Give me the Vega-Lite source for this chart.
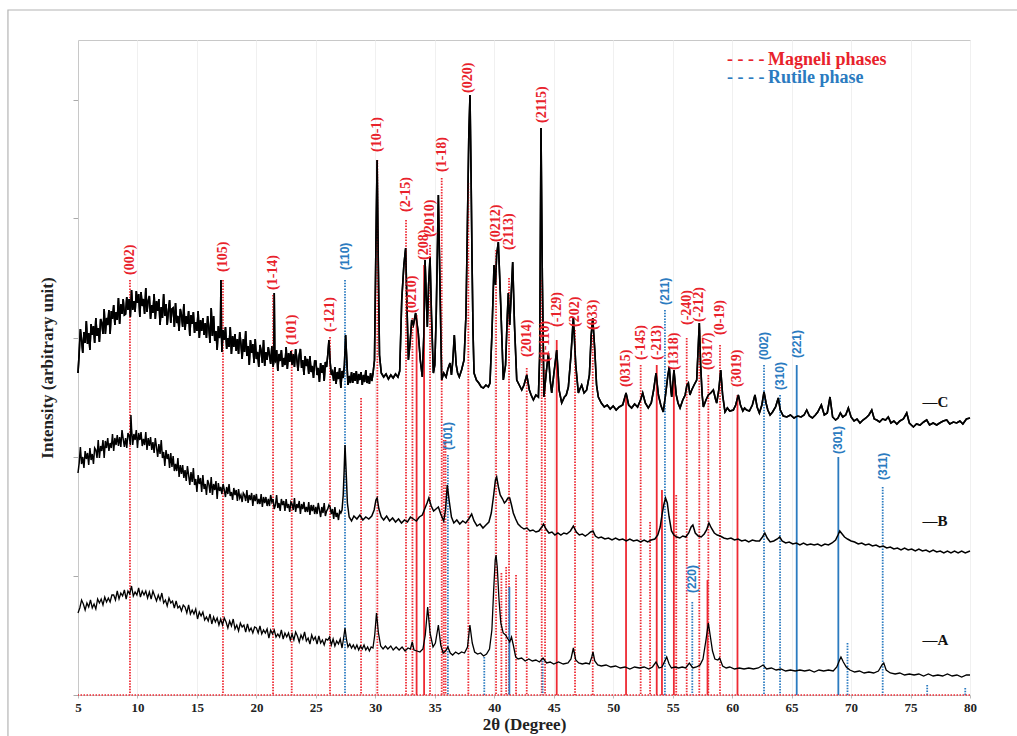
{
"$schema":"https://vega.github.io/schema/vega-lite/v6.json",
"width":892,"height":655,
"autosize":{"type":"none"},
"padding":{"left":78,"top":40,"right":47,"bottom":41},
"background":"white",
"config":{"view":{"stroke":"#c8c8c8","strokeWidth":1}},
"data":{"values":[{}]},
"datasets":{
"refs":[
{"x":9.37,"top":415,"ly":420,"p":"M","r":"d","t":"(002)"},
{"x":17.19,"top":415,"ly":423,"p":"M","r":"d","t":"(105)"},
{"x":21.4,"top":400,"ly":405,"p":"M","r":"d","t":"(1-14)"},
{"x":22.97,"top":345,"ly":350,"p":"M","r":"d","t":"(101)"},
{"x":26.19,"top":358,"ly":363,"p":"M","r":"d","t":"(-121)"},
{"x":28.8,"top":297,"ly":0,"p":"M","r":"d","t":""},
{"x":30.17,"top":535,"ly":543,"p":"M","r":"d","t":"(10-1)"},
{"x":32.58,"top":475,"ly":483,"p":"M","r":"d","t":"(2-15)"},
{"x":33.12,"top":377,"ly":382,"p":"M","r":"d","t":"(0210)"},
{"x":33.47,"top":380,"ly":0,"p":"M","r":"s","t":""},
{"x":34.1,"top":430,"ly":435,"p":"M","r":"s","t":"(208)"},
{"x":34.6,"top":450,"ly":458,"p":"M","r":"d","t":"(2010)"},
{"x":35.58,"top":517,"ly":523,"p":"M","r":"d","t":"(1-18)"},
{"x":35.75,"top":255,"ly":0,"p":"M","r":"d","t":""},
{"x":35.9,"top":255,"ly":0,"p":"M","r":"d","t":""},
{"x":37.82,"top":512,"ly":602,"p":"M","r":"d","t":"(020)"},
{"x":40.15,"top":445,"ly":453,"p":"M","r":"d","t":"(0212)"},
{"x":40.6,"top":122,"ly":0,"p":"M","r":"d","t":""},
{"x":41.0,"top":128,"ly":0,"p":"M","r":"d","t":""},
{"x":41.24,"top":417,"ly":445,"p":"M","r":"d","t":"(2113)"},
{"x":41.83,"top":120,"ly":0,"p":"M","r":"d","t":""},
{"x":42.73,"top":327,"ly":338,"p":"M","r":"d","t":"(2014)"},
{"x":43.99,"top":415,"ly":572,"p":"M","r":"d","t":"(2115)"},
{"x":44.27,"top":325,"ly":333,"p":"M","r":"d","t":"(1-110)"},
{"x":45.25,"top":355,"ly":368,"p":"M","r":"s","t":"(-129)"},
{"x":46.79,"top":365,"ly":368,"p":"M","r":"d","t":"(202)"},
{"x":48.28,"top":360,"ly":365,"p":"M","r":"d","t":"(033)"},
{"x":51.08,"top":300,"ly":308,"p":"M","r":"s","t":"(0315)"},
{"x":52.31,"top":330,"ly":335,"p":"M","r":"d","t":"(-145)"},
{"x":53.1,"top":173,"ly":0,"p":"M","r":"d","t":""},
{"x":53.66,"top":330,"ly":335,"p":"M","r":"s","t":"(-213)"},
{"x":54.1,"top":205,"ly":0,"p":"M","r":"s","t":""},
{"x":55.1,"top":323,"ly":325,"p":"M","r":"s","t":"(1318)"},
{"x":55.3,"top":200,"ly":0,"p":"M","r":"d","t":""},
{"x":56.18,"top":357,"ly":370,"p":"M","r":"d","t":"(-240)"},
{"x":57.24,"top":365,"ly":373,"p":"M","r":"d","t":"(-212)"},
{"x":58.0,"top":320,"ly":325,"p":"M","r":"d","t":"(0317)"},
{"x":57.93,"top":115,"ly":0,"p":"M","r":"s","t":""},
{"x":58.98,"top":350,"ly":360,"p":"M","r":"d","t":"(0-19)"},
{"x":60.45,"top":300,"ly":308,"p":"M","r":"s","t":"(3019)"},
{"x":27.45,"top":415,"ly":425,"p":"R","r":"d","t":"(110)"},
{"x":36.1,"top":240,"ly":245,"p":"R","r":"d","t":"(101)"},
{"x":39.16,"top":38,"ly":0,"p":"R","r":"d","t":""},
{"x":41.27,"top":108,"ly":0,"p":"R","r":"s","t":""},
{"x":44.07,"top":37,"ly":0,"p":"R","r":"d","t":""},
{"x":54.35,"top":385,"ly":390,"p":"R","r":"d","t":"(211)"},
{"x":56.65,"top":93,"ly":102,"p":"R","r":"d","t":"(220)"},
{"x":62.68,"top":330,"ly":335,"p":"R","r":"d","t":"(002)"},
{"x":64.03,"top":300,"ly":305,"p":"R","r":"d","t":"(310)"},
{"x":65.43,"top":330,"ly":337,"p":"R","r":"s","t":"(221)"},
{"x":68.93,"top":238,"ly":241,"p":"R","r":"s","t":"(301)"},
{"x":72.66,"top":208,"ly":215,"p":"R","r":"d","t":"(311)"},
{"x":69.7,"top":52,"ly":0,"p":"R","r":"d","t":""},
{"x":76.4,"top":10,"ly":0,"p":"R","r":"d","t":""},
{"x":79.6,"top":7,"ly":0,"p":"R","r":"d","t":""}
],
"C":[
{"x":5.0,"y":322},{"x":5.1,"y":342},{"x":5.2,"y":366},{"x":5.3,"y":355},{"x":5.4,"y":342},{"x":5.5,"y":363},{"x":5.6,"y":352},{"x":5.7,"y":374},{"x":5.8,"y":351},{"x":5.9,"y":362},{"x":6.0,"y":345},{"x":6.1,"y":371},{"x":6.2,"y":360},{"x":6.3,"y":369},{"x":6.4,"y":352},{"x":6.5,"y":377},{"x":6.6,"y":359},{"x":6.7,"y":367},{"x":6.8,"y":353},{"x":6.9,"y":376},{"x":7.0,"y":372},{"x":7.1,"y":361},{"x":7.2,"y":386},{"x":7.3,"y":361},{"x":7.4,"y":377},{"x":7.5,"y":370},{"x":7.6,"y":385},{"x":7.7,"y":361},{"x":7.8,"y":384},{"x":7.9,"y":376},{"x":8.0,"y":390},{"x":8.1,"y":370},{"x":8.2,"y":383},{"x":8.3,"y":375},{"x":8.4,"y":397},{"x":8.5,"y":371},{"x":8.6,"y":391},{"x":8.7,"y":381},{"x":8.8,"y":396},{"x":8.9,"y":380},{"x":9.0,"y":381},{"x":9.1,"y":398},{"x":9.2,"y":385},{"x":9.3,"y":396},{"x":9.4,"y":378},{"x":9.5,"y":405},{"x":9.6,"y":385},{"x":9.7,"y":394},{"x":9.8,"y":383},{"x":9.9,"y":404},{"x":10.0,"y":392},{"x":10.1,"y":401},{"x":10.2,"y":378},{"x":10.3,"y":403},{"x":10.4,"y":389},{"x":10.5,"y":396},{"x":10.6,"y":381},{"x":10.7,"y":407},{"x":10.8,"y":383},{"x":10.9,"y":394},{"x":11.0,"y":399},{"x":11.1,"y":376},{"x":11.2,"y":390},{"x":11.3,"y":382},{"x":11.4,"y":401},{"x":11.5,"y":376},{"x":11.6,"y":394},{"x":11.7,"y":384},{"x":11.8,"y":396},{"x":11.9,"y":370},{"x":12.0,"y":388},{"x":12.1,"y":377},{"x":12.2,"y":401},{"x":12.3,"y":379},{"x":12.4,"y":391},{"x":12.5,"y":370},{"x":12.6,"y":384},{"x":12.7,"y":395},{"x":12.8,"y":372},{"x":12.9,"y":386},{"x":13.0,"y":387},{"x":13.1,"y":368},{"x":13.2,"y":392},{"x":13.3,"y":372},{"x":13.4,"y":379},{"x":13.5,"y":364},{"x":13.6,"y":386},{"x":13.7,"y":380},{"x":13.8,"y":368},{"x":13.9,"y":391},{"x":14.0,"y":365},{"x":14.1,"y":379},{"x":14.2,"y":371},{"x":14.3,"y":384},{"x":14.4,"y":359},{"x":14.5,"y":380},{"x":14.6,"y":371},{"x":14.7,"y":383},{"x":14.8,"y":362},{"x":14.9,"y":373},{"x":15.0,"y":364},{"x":15.1,"y":384},{"x":15.2,"y":357},{"x":15.3,"y":375},{"x":15.4,"y":364},{"x":15.5,"y":377},{"x":15.6,"y":360},{"x":15.7,"y":372},{"x":15.8,"y":357},{"x":15.9,"y":379},{"x":16.0,"y":367},{"x":16.1,"y":352},{"x":16.2,"y":387},{"x":16.3,"y":359},{"x":16.4,"y":379},{"x":16.5,"y":354},{"x":16.6,"y":364},{"x":16.7,"y":345},{"x":16.8,"y":369},{"x":16.9,"y":357},{"x":16.97,"y":362},{"x":17.02,"y":415},{"x":17.07,"y":360},{"x":17.1,"y":343},{"x":17.2,"y":365},{"x":17.3,"y":355},{"x":17.4,"y":368},{"x":17.5,"y":346},{"x":17.6,"y":357},{"x":17.7,"y":348},{"x":17.8,"y":368},{"x":17.9,"y":341},{"x":18.0,"y":359},{"x":18.1,"y":348},{"x":18.2,"y":361},{"x":18.3,"y":344},{"x":18.4,"y":356},{"x":18.5,"y":341},{"x":18.6,"y":363},{"x":18.7,"y":351},{"x":18.8,"y":336},{"x":18.9,"y":356},{"x":19.0,"y":343},{"x":19.1,"y":364},{"x":19.2,"y":339},{"x":19.3,"y":349},{"x":19.4,"y":330},{"x":19.5,"y":355},{"x":19.6,"y":342},{"x":19.7,"y":351},{"x":19.8,"y":332},{"x":19.9,"y":356},{"x":20.0,"y":336},{"x":20.1,"y":343},{"x":20.2,"y":328},{"x":20.3,"y":350},{"x":20.4,"y":344},{"x":20.5,"y":332},{"x":20.6,"y":355},{"x":20.7,"y":329},{"x":20.8,"y":343},{"x":20.9,"y":335},{"x":21.0,"y":348},{"x":21.1,"y":340},{"x":21.2,"y":331},{"x":21.3,"y":349},{"x":21.4,"y":328},{"x":21.46,"y":333},{"x":21.5,"y":402},{"x":21.55,"y":335},{"x":21.6,"y":334},{"x":21.7,"y":345},{"x":21.8,"y":324},{"x":21.9,"y":341},{"x":22.0,"y":334},{"x":22.1,"y":345},{"x":22.2,"y":328},{"x":22.3,"y":337},{"x":22.4,"y":330},{"x":22.5,"y":348},{"x":22.6,"y":326},{"x":22.7,"y":342},{"x":22.8,"y":333},{"x":22.9,"y":344},{"x":23.0,"y":330},{"x":23.1,"y":341},{"x":23.2,"y":328},{"x":23.3,"y":346},{"x":23.4,"y":336},{"x":23.5,"y":324},{"x":23.6,"y":340},{"x":23.7,"y":346},{"x":23.8,"y":327},{"x":23.9,"y":335},{"x":24.0,"y":320},{"x":24.1,"y":339},{"x":24.2,"y":329},{"x":24.3,"y":336},{"x":24.4,"y":321},{"x":24.5,"y":339},{"x":24.6,"y":323},{"x":24.7,"y":329},{"x":24.8,"y":317},{"x":24.9,"y":334},{"x":25.0,"y":334},{"x":25.1,"y":320},{"x":25.2,"y":327},{"x":25.3,"y":313},{"x":25.4,"y":332},{"x":25.5,"y":322},{"x":25.6,"y":330},{"x":25.7,"y":314},{"x":25.8,"y":333},{"x":25.9,"y":328},{"x":26.0,"y":340},{"x":26.1,"y":355},{"x":26.2,"y":333},{"x":26.3,"y":320},{"x":26.4,"y":323},{"x":26.5,"y":314},{"x":26.6,"y":328},{"x":26.7,"y":311},{"x":26.8,"y":323},{"x":26.9,"y":316},{"x":27.0,"y":327},{"x":27.1,"y":307},{"x":27.2,"y":324},{"x":27.3,"y":317},{"x":27.4,"y":330},{"x":27.5,"y":360},{"x":27.6,"y":335},{"x":27.7,"y":310},{"x":27.8,"y":319},{"x":27.9,"y":312},{"x":28.0,"y":323},{"x":28.1,"y":312},{"x":28.2,"y":322},{"x":28.3,"y":314},{"x":28.4,"y":324},{"x":28.5,"y":311},{"x":28.6,"y":321},{"x":28.7,"y":315},{"x":28.8,"y":323},{"x":28.9,"y":310},{"x":29.0,"y":320},{"x":29.1,"y":313},{"x":29.2,"y":325},{"x":29.3,"y":312},{"x":29.4,"y":319},{"x":29.5,"y":311},{"x":29.6,"y":322},{"x":29.7,"y":314},{"x":29.8,"y":321},{"x":29.93,"y":335},{"x":30.05,"y":450},{"x":30.15,"y":535},{"x":30.25,"y":430},{"x":30.35,"y":340},{"x":30.5,"y":322},{"x":30.7,"y":318},{"x":30.9,"y":321},{"x":31.1,"y":316},{"x":31.3,"y":320},{"x":31.5,"y":317},{"x":31.7,"y":321},{"x":31.9,"y":318},{"x":32.05,"y":324},{"x":32.22,"y":395},{"x":32.4,"y":430},{"x":32.55,"y":447},{"x":32.68,"y":380},{"x":32.78,"y":335},{"x":32.92,"y":352},{"x":33.06,"y":375},{"x":33.2,"y":370},{"x":33.39,"y":382},{"x":33.5,"y":372},{"x":33.61,"y":362},{"x":33.78,"y":335},{"x":33.95,"y":318},{"x":34.08,"y":360},{"x":34.18,"y":435},{"x":34.28,"y":400},{"x":34.37,"y":368},{"x":34.48,"y":410},{"x":34.6,"y":438},{"x":34.72,"y":380},{"x":34.88,"y":322},{"x":35.0,"y":330},{"x":35.12,"y":380},{"x":35.3,"y":500},{"x":35.45,"y":400},{"x":35.58,"y":315},{"x":35.75,"y":322},{"x":35.95,"y":318},{"x":36.1,"y":326},{"x":36.28,"y":332},{"x":36.4,"y":320},{"x":36.52,"y":335},{"x":36.64,"y":360},{"x":36.8,"y":330},{"x":36.92,"y":322},{"x":37.06,"y":318},{"x":37.25,"y":325},{"x":37.46,"y":335},{"x":37.62,"y":380},{"x":37.74,"y":468},{"x":37.86,"y":560},{"x":37.96,"y":600},{"x":38.05,"y":520},{"x":38.13,"y":435},{"x":38.22,"y":360},{"x":38.3,"y":322},{"x":38.5,"y":315},{"x":38.7,"y":312},{"x":38.9,"y":308},{"x":39.08,"y":307},{"x":39.3,"y":310},{"x":39.5,"y":308},{"x":39.64,"y":312},{"x":39.8,"y":360},{"x":39.98,"y":430},{"x":40.1,"y":410},{"x":40.2,"y":440},{"x":40.34,"y":453},{"x":40.45,"y":420},{"x":40.55,"y":388},{"x":40.76,"y":315},{"x":40.95,"y":330},{"x":41.1,"y":380},{"x":41.18,"y":402},{"x":41.3,"y":370},{"x":41.42,"y":400},{"x":41.55,"y":433},{"x":41.7,"y":370},{"x":41.89,"y":315},{"x":42.1,"y":310},{"x":42.31,"y":305},{"x":42.5,"y":310},{"x":42.73,"y":320},{"x":42.95,"y":305},{"x":43.1,"y":300},{"x":43.29,"y":295},{"x":43.5,"y":300},{"x":43.71,"y":298},{"x":43.82,"y":340},{"x":43.93,"y":567},{"x":44.04,"y":418},{"x":44.18,"y":298},{"x":44.35,"y":320},{"x":44.55,"y":342},{"x":44.7,"y":315},{"x":44.83,"y":302},{"x":45.0,"y":320},{"x":45.25,"y":345},{"x":45.45,"y":305},{"x":45.67,"y":292},{"x":45.9,"y":298},{"x":46.05,"y":300},{"x":46.23,"y":308},{"x":46.45,"y":340},{"x":46.65,"y":378},{"x":46.85,"y":330},{"x":47.07,"y":302},{"x":47.2,"y":306},{"x":47.35,"y":310},{"x":47.55,"y":302},{"x":47.77,"y":305},{"x":48.0,"y":320},{"x":48.15,"y":360},{"x":48.28,"y":377},{"x":48.45,"y":345},{"x":48.6,"y":310},{"x":48.75,"y":298},{"x":49.0,"y":292},{"x":49.25,"y":288},{"x":49.5,"y":290},{"x":49.75,"y":286},{"x":50.0,"y":289},{"x":50.25,"y":285},{"x":50.5,"y":288},{"x":50.8,"y":290},{"x":51.08,"y":302},{"x":51.3,"y":290},{"x":51.55,"y":287},{"x":51.8,"y":291},{"x":52.05,"y":288},{"x":52.3,"y":295},{"x":52.48,"y":302},{"x":52.7,"y":292},{"x":52.95,"y":287},{"x":53.2,"y":292},{"x":53.4,"y":305},{"x":53.6,"y":322},{"x":53.8,"y":300},{"x":54.0,"y":290},{"x":54.21,"y":283},{"x":54.4,"y":300},{"x":54.6,"y":320},{"x":54.72,"y":328},{"x":54.85,"y":305},{"x":54.92,"y":298},{"x":55.02,"y":312},{"x":55.11,"y":325},{"x":55.3,"y":300},{"x":55.45,"y":292},{"x":55.62,"y":287},{"x":55.85,"y":295},{"x":56.05,"y":300},{"x":56.2,"y":310},{"x":56.32,"y":312},{"x":56.45,"y":300},{"x":56.6,"y":305},{"x":56.8,"y":310},{"x":57.02,"y":315},{"x":57.12,"y":340},{"x":57.24,"y":372},{"x":57.35,"y":330},{"x":57.48,"y":300},{"x":57.58,"y":288},{"x":57.8,"y":295},{"x":58.0,"y":300},{"x":58.2,"y":302},{"x":58.42,"y":305},{"x":58.6,"y":296},{"x":58.7,"y":292},{"x":58.88,"y":305},{"x":59.04,"y":325},{"x":59.2,"y":300},{"x":59.4,"y":283},{"x":59.6,"y":287},{"x":59.8,"y":284},{"x":60.1,"y":285},{"x":60.3,"y":290},{"x":60.52,"y":300},{"x":60.7,"y":290},{"x":60.9,"y":284},{"x":61.05,"y":287},{"x":61.22,"y":285},{"x":61.45,"y":284},{"x":61.7,"y":290},{"x":61.92,"y":300},{"x":62.1,"y":288},{"x":62.29,"y":282},{"x":62.5,"y":290},{"x":62.68,"y":303},{"x":62.85,"y":292},{"x":63.0,"y":285},{"x":63.19,"y":280},{"x":63.4,"y":283},{"x":63.65,"y":288},{"x":63.88,"y":297},{"x":64.05,"y":285},{"x":64.3,"y":279},{"x":64.6,"y":278},{"x":64.9,"y":280},{"x":65.2,"y":277},{"x":65.5,"y":279},{"x":65.8,"y":278},{"x":66.05,"y":280},{"x":66.27,"y":285},{"x":66.5,"y":279},{"x":66.75,"y":277},{"x":67.0,"y":280},{"x":67.2,"y":283},{"x":67.5,"y":290},{"x":67.75,"y":280},{"x":68.0,"y":282},{"x":68.23,"y":298},{"x":68.45,"y":278},{"x":68.7,"y":275},{"x":68.9,"y":277},{"x":69.1,"y":282},{"x":69.3,"y":278},{"x":69.55,"y":280},{"x":69.77,"y":287},{"x":70.0,"y":278},{"x":70.25,"y":274},{"x":70.5,"y":276},{"x":70.75,"y":272},{"x":71.0,"y":275},{"x":71.25,"y":277},{"x":71.5,"y":280},{"x":71.74,"y":285},{"x":71.95,"y":276},{"x":72.16,"y":275},{"x":72.4,"y":273},{"x":72.65,"y":276},{"x":72.9,"y":275},{"x":73.13,"y":278},{"x":73.35,"y":272},{"x":73.6,"y":274},{"x":73.85,"y":271},{"x":74.1,"y":274},{"x":74.4,"y":276},{"x":74.68,"y":282},{"x":74.9,"y":272},{"x":75.24,"y":268},{"x":75.5,"y":271},{"x":75.8,"y":270},{"x":76.1,"y":273},{"x":76.36,"y":275},{"x":76.6,"y":270},{"x":76.9,"y":272},{"x":77.2,"y":270},{"x":77.45,"y":272},{"x":77.75,"y":274},{"x":78.04,"y":275},{"x":78.3,"y":271},{"x":78.6,"y":273},{"x":78.88,"y":272},{"x":79.15,"y":274},{"x":79.4,"y":271},{"x":79.7,"y":276},{"x":80.0,"y":277}
],
"B":[
{"x":5.0,"y":222},{"x":5.1,"y":232},{"x":5.2,"y":248},{"x":5.3,"y":231},{"x":5.4,"y":238},{"x":5.5,"y":227},{"x":5.6,"y":244},{"x":5.7,"y":236},{"x":5.8,"y":242},{"x":5.9,"y":230},{"x":6.0,"y":247},{"x":6.1,"y":235},{"x":6.2,"y":241},{"x":6.3,"y":231},{"x":6.4,"y":247},{"x":6.5,"y":245},{"x":6.6,"y":237},{"x":6.7,"y":255},{"x":6.8,"y":237},{"x":6.9,"y":249},{"x":7.0,"y":244},{"x":7.1,"y":255},{"x":7.2,"y":237},{"x":7.3,"y":254},{"x":7.4,"y":247},{"x":7.5,"y":257},{"x":7.6,"y":244},{"x":7.7,"y":252},{"x":7.8,"y":247},{"x":7.9,"y":261},{"x":8.0,"y":244},{"x":8.1,"y":257},{"x":8.2,"y":250},{"x":8.3,"y":260},{"x":8.4,"y":249},{"x":8.5,"y":258},{"x":8.6,"y":248},{"x":8.7,"y":265},{"x":8.8,"y":256},{"x":8.9,"y":248},{"x":9.0,"y":257},{"x":9.1,"y":247},{"x":9.2,"y":262},{"x":9.3,"y":259},{"x":9.4,"y":250},{"x":9.45,"y":280},{"x":9.5,"y":267},{"x":9.6,"y":250},{"x":9.7,"y":261},{"x":9.8,"y":255},{"x":9.9,"y":265},{"x":10.0,"y":247},{"x":10.1,"y":262},{"x":10.2,"y":255},{"x":10.3,"y":263},{"x":10.4,"y":249},{"x":10.5,"y":256},{"x":10.6,"y":250},{"x":10.7,"y":263},{"x":10.8,"y":245},{"x":10.9,"y":257},{"x":11.0,"y":249},{"x":11.1,"y":258},{"x":11.2,"y":245},{"x":11.3,"y":253},{"x":11.4,"y":242},{"x":11.5,"y":257},{"x":11.6,"y":248},{"x":11.7,"y":238},{"x":11.8,"y":251},{"x":11.9,"y":241},{"x":12.0,"y":255},{"x":12.1,"y":237},{"x":12.2,"y":243},{"x":12.3,"y":229},{"x":12.4,"y":245},{"x":12.5,"y":236},{"x":12.6,"y":241},{"x":12.7,"y":227},{"x":12.8,"y":242},{"x":12.9,"y":228},{"x":13.0,"y":239},{"x":13.1,"y":224},{"x":13.2,"y":231},{"x":13.3,"y":224},{"x":13.4,"y":237},{"x":13.5,"y":218},{"x":13.6,"y":230},{"x":13.7,"y":221},{"x":13.8,"y":230},{"x":13.9,"y":217},{"x":14.0,"y":225},{"x":14.1,"y":214},{"x":14.2,"y":229},{"x":14.3,"y":220},{"x":14.4,"y":210},{"x":14.5,"y":223},{"x":14.6,"y":213},{"x":14.7,"y":227},{"x":14.8,"y":210},{"x":14.9,"y":216},{"x":15.0,"y":203},{"x":15.1,"y":220},{"x":15.2,"y":211},{"x":15.3,"y":217},{"x":15.4,"y":203},{"x":15.5,"y":220},{"x":15.6,"y":206},{"x":15.7,"y":211},{"x":15.8,"y":200},{"x":15.9,"y":215},{"x":16.0,"y":211},{"x":16.1,"y":202},{"x":16.2,"y":218},{"x":16.3,"y":200},{"x":16.4,"y":211},{"x":16.5,"y":205},{"x":16.6,"y":214},{"x":16.7,"y":196},{"x":16.8,"y":212},{"x":16.9,"y":204},{"x":17.0,"y":208},{"x":17.1,"y":201},{"x":17.2,"y":211},{"x":17.3,"y":205},{"x":17.4,"y":198},{"x":17.5,"y":208},{"x":17.6,"y":201},{"x":17.7,"y":211},{"x":17.8,"y":199},{"x":17.9,"y":203},{"x":18.0,"y":195},{"x":18.1,"y":207},{"x":18.2,"y":200},{"x":18.3,"y":205},{"x":18.4,"y":194},{"x":18.5,"y":206},{"x":18.6,"y":197},{"x":18.7,"y":200},{"x":18.8,"y":193},{"x":18.9,"y":202},{"x":19.0,"y":200},{"x":19.1,"y":194},{"x":19.2,"y":205},{"x":19.3,"y":192},{"x":19.4,"y":200},{"x":19.5,"y":195},{"x":19.6,"y":202},{"x":19.7,"y":189},{"x":19.8,"y":200},{"x":19.9,"y":194},{"x":20.0,"y":201},{"x":20.1,"y":191},{"x":20.2,"y":196},{"x":20.3,"y":191},{"x":20.4,"y":201},{"x":20.5,"y":188},{"x":20.6,"y":198},{"x":20.7,"y":192},{"x":20.8,"y":198},{"x":20.9,"y":189},{"x":21.0,"y":196},{"x":21.1,"y":189},{"x":21.2,"y":200},{"x":21.3,"y":193},{"x":21.4,"y":196},{"x":21.5,"y":186},{"x":21.6,"y":190},{"x":21.7,"y":200},{"x":21.8,"y":187},{"x":21.9,"y":192},{"x":22.0,"y":184},{"x":22.1,"y":196},{"x":22.2,"y":190},{"x":22.3,"y":194},{"x":22.4,"y":184},{"x":22.5,"y":196},{"x":22.6,"y":187},{"x":22.7,"y":191},{"x":22.8,"y":183},{"x":22.9,"y":193},{"x":23.0,"y":191},{"x":23.1,"y":185},{"x":23.2,"y":197},{"x":23.3,"y":183},{"x":23.4,"y":191},{"x":23.5,"y":187},{"x":23.6,"y":194},{"x":23.7,"y":181},{"x":23.8,"y":191},{"x":23.9,"y":186},{"x":24.0,"y":193},{"x":24.1,"y":183},{"x":24.2,"y":188},{"x":24.3,"y":183},{"x":24.4,"y":193},{"x":24.5,"y":180},{"x":24.6,"y":190},{"x":24.7,"y":184},{"x":24.8,"y":190},{"x":24.9,"y":181},{"x":25.0,"y":188},{"x":25.1,"y":181},{"x":25.2,"y":192},{"x":25.3,"y":185},{"x":25.4,"y":178},{"x":25.5,"y":188},{"x":25.6,"y":182},{"x":25.7,"y":192},{"x":25.8,"y":179},{"x":25.9,"y":184},{"x":26.0,"y":186},{"x":26.1,"y":190},{"x":26.2,"y":188},{"x":26.3,"y":181},{"x":26.4,"y":186},{"x":26.5,"y":176},{"x":26.6,"y":188},{"x":26.7,"y":178},{"x":26.8,"y":182},{"x":26.9,"y":175},{"x":27.0,"y":184},{"x":27.1,"y":182},{"x":27.2,"y":185},{"x":27.3,"y":200},{"x":27.38,"y":225},{"x":27.45,"y":250},{"x":27.55,"y":222},{"x":27.65,"y":192},{"x":27.8,"y":178},{"x":28.0,"y":174},{"x":28.2,"y":179},{"x":28.45,"y":176},{"x":28.7,"y":180},{"x":28.95,"y":175},{"x":29.2,"y":178},{"x":29.45,"y":176},{"x":29.7,"y":179},{"x":29.9,"y":185},{"x":30.05,"y":195},{"x":30.15,"y":197},{"x":30.3,"y":186},{"x":30.5,"y":178},{"x":30.7,"y":175},{"x":30.95,"y":179},{"x":31.2,"y":174},{"x":31.45,"y":177},{"x":31.7,"y":173},{"x":31.95,"y":176},{"x":32.2,"y":172},{"x":32.45,"y":175},{"x":32.7,"y":173},{"x":32.95,"y":178},{"x":33.2,"y":176},{"x":33.45,"y":174},{"x":33.7,"y":178},{"x":33.95,"y":180},{"x":34.15,"y":186},{"x":34.35,"y":192},{"x":34.5,"y":197},{"x":34.7,"y":189},{"x":34.9,"y":184},{"x":35.1,"y":186},{"x":35.3,"y":188},{"x":35.5,"y":181},{"x":35.75,"y":174},{"x":35.9,"y":185},{"x":36.05,"y":210},{"x":36.2,"y":195},{"x":36.4,"y":178},{"x":36.6,"y":172},{"x":36.85,"y":175},{"x":37.1,"y":171},{"x":37.35,"y":174},{"x":37.6,"y":172},{"x":37.85,"y":176},{"x":38.1,"y":181},{"x":38.3,"y":174},{"x":38.55,"y":169},{"x":38.8,"y":171},{"x":39.05,"y":167},{"x":39.3,"y":170},{"x":39.55,"y":173},{"x":39.75,"y":182},{"x":39.95,"y":200},{"x":40.1,"y":215},{"x":40.2,"y":218},{"x":40.35,"y":208},{"x":40.5,"y":200},{"x":40.7,"y":196},{"x":40.85,"y":192},{"x":41.0,"y":194},{"x":41.15,"y":197},{"x":41.3,"y":197},{"x":41.45,"y":190},{"x":41.6,"y":182},{"x":41.8,"y":176},{"x":42.0,"y":171},{"x":42.25,"y":168},{"x":42.5,"y":166},{"x":42.75,"y":167},{"x":43.0,"y":164},{"x":43.25,"y":165},{"x":43.5,"y":163},{"x":43.75,"y":164},{"x":44.0,"y":168},{"x":44.15,"y":171},{"x":44.35,"y":166},{"x":44.6,"y":162},{"x":44.85,"y":163},{"x":45.1,"y":160},{"x":45.35,"y":162},{"x":45.6,"y":160},{"x":45.85,"y":162},{"x":46.1,"y":161},{"x":46.4,"y":164},{"x":46.65,"y":169},{"x":46.9,"y":163},{"x":47.15,"y":160},{"x":47.4,"y":161},{"x":47.65,"y":159},{"x":47.9,"y":161},{"x":48.1,"y":163},{"x":48.3,"y":164},{"x":48.5,"y":159},{"x":48.75,"y":157},{"x":49.0,"y":158},{"x":49.3,"y":156},{"x":49.6,"y":157},{"x":49.9,"y":155},{"x":50.2,"y":157},{"x":50.5,"y":155},{"x":50.8,"y":156},{"x":51.1,"y":154},{"x":51.4,"y":156},{"x":51.7,"y":154},{"x":52.0,"y":155},{"x":52.3,"y":153},{"x":52.6,"y":155},{"x":52.9,"y":153},{"x":53.2,"y":155},{"x":53.5,"y":156},{"x":53.75,"y":160},{"x":53.95,"y":168},{"x":54.1,"y":180},{"x":54.25,"y":190},{"x":54.4,"y":197},{"x":54.55,"y":192},{"x":54.7,"y":178},{"x":54.9,"y":164},{"x":55.1,"y":160},{"x":55.35,"y":158},{"x":55.6,"y":157},{"x":55.85,"y":159},{"x":56.1,"y":158},{"x":56.35,"y":162},{"x":56.55,"y":168},{"x":56.7,"y":170},{"x":56.9,"y":162},{"x":57.15,"y":159},{"x":57.4,"y":158},{"x":57.65,"y":161},{"x":57.85,"y":165},{"x":58.05,"y":172},{"x":58.25,"y":167},{"x":58.5,"y":162},{"x":58.75,"y":160},{"x":59.0,"y":159},{"x":59.3,"y":157},{"x":59.6,"y":156},{"x":59.9,"y":157},{"x":60.2,"y":155},{"x":60.5,"y":156},{"x":60.8,"y":154},{"x":61.1,"y":155},{"x":61.4,"y":153},{"x":61.7,"y":155},{"x":62.0,"y":154},{"x":62.3,"y":154},{"x":62.55,"y":158},{"x":62.75,"y":162},{"x":62.95,"y":157},{"x":63.2,"y":153},{"x":63.5,"y":154},{"x":63.8,"y":156},{"x":64.0,"y":158},{"x":64.2,"y":154},{"x":64.5,"y":152},{"x":64.8,"y":153},{"x":65.1,"y":151},{"x":65.4,"y":152},{"x":65.7,"y":150},{"x":66.0,"y":152},{"x":66.3,"y":150},{"x":66.6,"y":151},{"x":66.9,"y":150},{"x":67.2,"y":151},{"x":67.5,"y":149},{"x":67.8,"y":151},{"x":68.1,"y":150},{"x":68.4,"y":152},{"x":68.7,"y":155},{"x":68.9,"y":160},{"x":69.05,"y":164},{"x":69.25,"y":161},{"x":69.45,"y":158},{"x":69.7,"y":156},{"x":70.0,"y":154},{"x":70.3,"y":153},{"x":70.6,"y":151},{"x":70.9,"y":152},{"x":71.2,"y":150},{"x":71.5,"y":151},{"x":71.8,"y":149},{"x":72.1,"y":150},{"x":72.4,"y":148},{"x":72.7,"y":149},{"x":73.0,"y":147},{"x":73.3,"y":148},{"x":73.6,"y":146},{"x":73.9,"y":147},{"x":74.2,"y":145},{"x":74.5,"y":147},{"x":74.8,"y":145},{"x":75.1,"y":146},{"x":75.4,"y":144},{"x":75.7,"y":146},{"x":76.0,"y":144},{"x":76.3,"y":145},{"x":76.6,"y":143},{"x":76.9,"y":145},{"x":77.2,"y":143},{"x":77.5,"y":144},{"x":77.8,"y":142},{"x":78.1,"y":144},{"x":78.4,"y":142},{"x":78.7,"y":144},{"x":79.0,"y":142},{"x":79.3,"y":144},{"x":79.6,"y":142},{"x":80.0,"y":144}
],
"A":[
{"x":5.0,"y":82},{"x":5.15,"y":87},{"x":5.3,"y":95},{"x":5.45,"y":91},{"x":5.6,"y":85},{"x":5.75,"y":92},{"x":5.9,"y":88},{"x":6.05,"y":95},{"x":6.2,"y":87},{"x":6.35,"y":91},{"x":6.5,"y":86},{"x":6.65,"y":96},{"x":6.8,"y":92},{"x":6.95,"y":96},{"x":7.1,"y":90},{"x":7.25,"y":98},{"x":7.4,"y":93},{"x":7.55,"y":97},{"x":7.7,"y":93},{"x":7.85,"y":100},{"x":8.0,"y":100},{"x":8.15,"y":95},{"x":8.3,"y":104},{"x":8.45,"y":96},{"x":8.6,"y":102},{"x":8.75,"y":99},{"x":8.9,"y":105},{"x":9.05,"y":96},{"x":9.2,"y":104},{"x":9.35,"y":101},{"x":9.5,"y":109},{"x":9.65,"y":99},{"x":9.8,"y":103},{"x":9.95,"y":100},{"x":10.1,"y":107},{"x":10.25,"y":98},{"x":10.4,"y":104},{"x":10.55,"y":100},{"x":10.7,"y":104},{"x":10.85,"y":97},{"x":11.0,"y":103},{"x":11.15,"y":96},{"x":11.3,"y":104},{"x":11.45,"y":99},{"x":11.6,"y":94},{"x":11.75,"y":100},{"x":11.9,"y":95},{"x":12.05,"y":102},{"x":12.2,"y":92},{"x":12.35,"y":95},{"x":12.5,"y":89},{"x":12.65,"y":97},{"x":12.8,"y":92},{"x":12.95,"y":94},{"x":13.1,"y":87},{"x":13.25,"y":94},{"x":13.4,"y":87},{"x":13.55,"y":89},{"x":13.7,"y":84},{"x":13.85,"y":90},{"x":14.0,"y":88},{"x":14.15,"y":82},{"x":14.3,"y":90},{"x":14.45,"y":81},{"x":14.6,"y":85},{"x":14.75,"y":81},{"x":14.9,"y":86},{"x":15.05,"y":76},{"x":15.2,"y":83},{"x":15.35,"y":79},{"x":15.5,"y":83},{"x":15.65,"y":75},{"x":15.8,"y":78},{"x":15.95,"y":74},{"x":16.1,"y":81},{"x":16.25,"y":71},{"x":16.4,"y":78},{"x":16.55,"y":73},{"x":16.7,"y":77},{"x":16.85,"y":70},{"x":17.0,"y":76},{"x":17.15,"y":70},{"x":17.3,"y":77},{"x":17.45,"y":73},{"x":17.6,"y":67},{"x":17.75,"y":74},{"x":17.9,"y":69},{"x":18.05,"y":76},{"x":18.2,"y":66},{"x":18.35,"y":70},{"x":18.5,"y":64},{"x":18.65,"y":72},{"x":18.8,"y":68},{"x":18.95,"y":70},{"x":19.1,"y":63},{"x":19.25,"y":71},{"x":19.4,"y":64},{"x":19.55,"y":67},{"x":19.7,"y":62},{"x":19.85,"y":68},{"x":20.0,"y":67},{"x":20.15,"y":62},{"x":20.3,"y":69},{"x":20.45,"y":61},{"x":20.6,"y":65},{"x":20.75,"y":62},{"x":20.9,"y":66},{"x":21.05,"y":57},{"x":21.2,"y":65},{"x":21.35,"y":61},{"x":21.5,"y":65},{"x":21.65,"y":58},{"x":21.8,"y":61},{"x":21.95,"y":58},{"x":22.1,"y":65},{"x":22.25,"y":56},{"x":22.4,"y":62},{"x":22.55,"y":58},{"x":22.7,"y":62},{"x":22.85,"y":55},{"x":23.0,"y":61},{"x":23.15,"y":55},{"x":23.3,"y":63},{"x":23.45,"y":59},{"x":23.6,"y":53},{"x":23.75,"y":60},{"x":23.9,"y":56},{"x":24.05,"y":63},{"x":24.2,"y":54},{"x":24.35,"y":57},{"x":24.5,"y":51},{"x":24.65,"y":60},{"x":24.8,"y":55},{"x":24.95,"y":58},{"x":25.1,"y":51},{"x":25.25,"y":59},{"x":25.4,"y":52},{"x":25.55,"y":55},{"x":25.7,"y":50},{"x":25.85,"y":56},{"x":26.0,"y":55},{"x":26.15,"y":58},{"x":26.3,"y":50},{"x":26.45,"y":56},{"x":26.6,"y":49},{"x":26.75,"y":54},{"x":26.9,"y":51},{"x":27.05,"y":56},{"x":27.2,"y":47},{"x":27.32,"y":56},{"x":27.45,"y":67},{"x":27.58,"y":55},{"x":27.7,"y":48},{"x":27.85,"y":51},{"x":28.0,"y":47},{"x":28.15,"y":50},{"x":28.3,"y":46},{"x":28.45,"y":50},{"x":28.6,"y":45},{"x":28.75,"y":49},{"x":28.9,"y":46},{"x":29.05,"y":50},{"x":29.2,"y":45},{"x":29.35,"y":48},{"x":29.5,"y":44},{"x":29.65,"y":48},{"x":29.8,"y":47},{"x":29.95,"y":60},{"x":30.1,"y":82},{"x":30.25,"y":63},{"x":30.45,"y":49},{"x":30.65,"y":46},{"x":30.85,"y":49},{"x":31.05,"y":46},{"x":31.3,"y":49},{"x":31.5,"y":45},{"x":31.75,"y":48},{"x":32.0,"y":45},{"x":32.25,"y":48},{"x":32.5,"y":44},{"x":32.75,"y":47},{"x":32.95,"y":46},{"x":33.1,"y":53},{"x":33.25,"y":45},{"x":33.5,"y":44},{"x":33.75,"y":43},{"x":34.0,"y":46},{"x":34.2,"y":60},{"x":34.4,"y":88},{"x":34.6,"y":62},{"x":34.85,"y":48},{"x":35.05,"y":52},{"x":35.3,"y":70},{"x":35.5,"y":50},{"x":35.7,"y":42},{"x":35.9,"y":44},{"x":36.1,"y":48},{"x":36.3,"y":42},{"x":36.5,"y":40},{"x":36.75,"y":43},{"x":37.0,"y":41},{"x":37.25,"y":43},{"x":37.5,"y":42},{"x":37.75,"y":48},{"x":37.95,"y":70},{"x":38.15,"y":52},{"x":38.35,"y":43},{"x":38.6,"y":41},{"x":38.85,"y":42},{"x":39.1,"y":39},{"x":39.35,"y":41},{"x":39.6,"y":46},{"x":39.8,"y":65},{"x":39.95,"y":105},{"x":40.08,"y":135},{"x":40.15,"y":140},{"x":40.25,"y":128},{"x":40.4,"y":95},{"x":40.55,"y":72},{"x":40.75,"y":62},{"x":40.95,"y":60},{"x":41.15,"y":56},{"x":41.3,"y":53},{"x":41.45,"y":58},{"x":41.6,"y":50},{"x":41.8,"y":38},{"x":42.0,"y":36},{"x":42.3,"y":37},{"x":42.6,"y":34},{"x":42.9,"y":36},{"x":43.2,"y":34},{"x":43.5,"y":35},{"x":43.8,"y":33},{"x":44.1,"y":37},{"x":44.4,"y":32},{"x":44.7,"y":33},{"x":45.0,"y":31},{"x":45.4,"y":33},{"x":45.8,"y":31},{"x":46.2,"y":32},{"x":46.45,"y":36},{"x":46.65,"y":47},{"x":46.85,"y":35},{"x":47.1,"y":32},{"x":47.4,"y":31},{"x":47.7,"y":32},{"x":48.0,"y":31},{"x":48.2,"y":38},{"x":48.3,"y":43},{"x":48.45,"y":34},{"x":48.7,"y":30},{"x":49.0,"y":29},{"x":49.4,"y":30},{"x":49.8,"y":28},{"x":50.2,"y":29},{"x":50.6,"y":27},{"x":51.0,"y":28},{"x":51.4,"y":26},{"x":51.8,"y":28},{"x":52.2,"y":27},{"x":52.6,"y":28},{"x":53.0,"y":26},{"x":53.3,"y":28},{"x":53.6,"y":33},{"x":53.85,"y":27},{"x":54.1,"y":28},{"x":54.3,"y":33},{"x":54.5,"y":38},{"x":54.7,"y":31},{"x":54.9,"y":27},{"x":55.2,"y":28},{"x":55.5,"y":27},{"x":55.8,"y":28},{"x":56.1,"y":27},{"x":56.4,"y":32},{"x":56.7,"y":27},{"x":57.0,"y":28},{"x":57.3,"y":30},{"x":57.55,"y":36},{"x":57.8,"y":55},{"x":58.0,"y":72},{"x":58.15,"y":60},{"x":58.35,"y":44},{"x":58.55,"y":36},{"x":58.8,"y":35},{"x":58.95,"y":37},{"x":59.2,"y":29},{"x":59.5,"y":27},{"x":59.8,"y":28},{"x":60.2,"y":26},{"x":60.6,"y":27},{"x":61.0,"y":26},{"x":61.4,"y":27},{"x":61.8,"y":26},{"x":62.2,"y":27},{"x":62.6,"y":30},{"x":62.9,"y":26},{"x":63.3,"y":27},{"x":63.7,"y":25},{"x":64.1,"y":26},{"x":64.5,"y":24},{"x":64.9,"y":25},{"x":65.3,"y":24},{"x":65.7,"y":25},{"x":66.1,"y":24},{"x":66.5,"y":25},{"x":66.9,"y":23},{"x":67.3,"y":25},{"x":67.7,"y":24},{"x":68.1,"y":25},{"x":68.5,"y":24},{"x":68.8,"y":28},{"x":69.0,"y":34},{"x":69.15,"y":38},{"x":69.35,"y":33},{"x":69.6,"y":28},{"x":69.9,"y":25},{"x":70.3,"y":23},{"x":70.7,"y":24},{"x":71.1,"y":22},{"x":71.5,"y":23},{"x":71.9,"y":22},{"x":72.3,"y":24},{"x":72.6,"y":30},{"x":72.75,"y":32},{"x":72.95,"y":25},{"x":73.3,"y":22},{"x":73.7,"y":21},{"x":74.1,"y":22},{"x":74.5,"y":20},{"x":74.9,"y":21},{"x":75.3,"y":20},{"x":75.7,"y":21},{"x":76.1,"y":19},{"x":76.5,"y":21},{"x":76.9,"y":19},{"x":77.3,"y":20},{"x":77.7,"y":19},{"x":78.1,"y":21},{"x":78.5,"y":19},{"x":78.9,"y":20},{"x":79.3,"y":18},{"x":79.7,"y":20},{"x":80.0,"y":20}
]
},
"layer":[
{"data":{"name":"C"},"mark":{"type":"line","color":"#000000","strokeWidth":1.6},
 "encoding":{
  "x":{"field":"x","type":"quantitative","scale":{"domain":[5,80],"nice":false,"zero":false},
   "axis":{"values":[5,10,15,20,25,30,35,40,45,50,55,60,65,70,75,80],"title":"2θ (Degree)","titleFont":"Liberation Serif","titleFontWeight":"bold","titleFontSize":17,"titleColor":"#222222","titlePadding":2,"labelFont":"Liberation Serif","labelFontWeight":"bold","labelFontSize":13,"labelColor":"#222222","labelPadding":3,"labelFlush":false,"tickSize":3,"tickColor":"#bbbbbb","domainColor":"#c8c8c8","grid":true,"gridColor":"#f0f0f0"}},
  "y":{"field":"y","type":"quantitative","scale":{"domain":[0,655],"nice":false},
   "axis":{"values":[0,119,238,357,477,595],"labels":false,"tickSize":5,"tickColor":"#aaaaaa","domainColor":"#c8c8c8","grid":false,"title":"Intensity (arbitrary unit)","titleFont":"Liberation Serif","titleFontWeight":"bold","titleFontSize":17,"titlePadding":16,"titleColor":"#222222"}}}},
{"mark":{"type":"rect","fill":null,"filled":false,"stroke":"#b4b4b4","strokeWidth":1.2,"clip":false},
 "encoding":{"x":{"datum":-0.89,"type":"quantitative"},"x2":{"datum":86},"y":{"datum":685,"type":"quantitative"},"y2":{"datum":-80}}},
{"data":{"name":"refs"},"mark":{"type":"rule","strokeWidth":1.8},
 "encoding":{
  "x":{"field":"x","type":"quantitative"},
  "y":{"field":"top","type":"quantitative"},
  "y2":{"datum":0},
  "color":{"field":"p","type":"nominal","scale":{"domain":["M","R"],"range":["#ee2a33","#2b7bc0"]},"legend":null},
  "strokeDash":{"field":"r","type":"nominal","scale":{"domain":["d","s"],"range":[[1.5,1.3],[1,0]]},"legend":null}}},
{"mark":{"type":"rule","color":"#ee2a33","strokeDash":[1.5,1.5],"strokeWidth":1.5},
 "encoding":{"y":{"datum":0,"type":"quantitative"}}},
{"data":{"name":"C"},"mark":{"type":"line","color":"#000000","strokeWidth":1.6},
 "encoding":{"x":{"field":"x","type":"quantitative"},"y":{"field":"y","type":"quantitative"}}},
{"data":{"name":"B"},"mark":{"type":"line","color":"#000000","strokeWidth":1.5},
 "encoding":{"x":{"field":"x","type":"quantitative"},"y":{"field":"y","type":"quantitative"}}},
{"data":{"name":"A"},"mark":{"type":"line","color":"#000000","strokeWidth":1.3},
 "encoding":{"x":{"field":"x","type":"quantitative"},"y":{"field":"y","type":"quantitative"}}},
{"data":{"name":"refs"},"transform":[{"filter":"datum.t != '' && datum.p == 'M'"}],
 "mark":{"type":"text","angle":270,"align":"left","baseline":"middle","font":"Liberation Serif","fontWeight":"bold","fontSize":14,"color":"#e8222b"},
 "encoding":{"x":{"field":"x","type":"quantitative"},"y":{"field":"ly","type":"quantitative"},"text":{"field":"t"}}},
{"data":{"name":"refs"},"transform":[{"filter":"datum.t != '' && datum.p == 'R'"}],
 "mark":{"type":"text","angle":270,"align":"left","baseline":"middle","font":"Liberation Sans","fontWeight":"bold","fontSize":12,"color":"#2b7bc0"},
 "encoding":{"x":{"field":"x","type":"quantitative"},"y":{"field":"ly","type":"quantitative"},"text":{"field":"t"}}},
{"mark":{"type":"text","align":"left","baseline":"middle","font":"Liberation Serif","fontWeight":"bold","fontSize":18,"color":"#e8222b","text":"- - - -"},
 "encoding":{"x":{"datum":59.57,"type":"quantitative"},"y":{"datum":635,"type":"quantitative"}}},
{"mark":{"type":"text","align":"left","baseline":"middle","font":"Liberation Serif","fontWeight":"bold","fontSize":18,"color":"#e8222b","text":"Magneli phases"},
 "encoding":{"x":{"datum":63.02,"type":"quantitative"},"y":{"datum":635,"type":"quantitative"}}},
{"mark":{"type":"text","align":"left","baseline":"middle","font":"Liberation Serif","fontWeight":"bold","fontSize":18,"color":"#2b7bc0","text":"- - - -"},
 "encoding":{"x":{"datum":59.57,"type":"quantitative"},"y":{"datum":617,"type":"quantitative"}}},
{"mark":{"type":"text","align":"left","baseline":"middle","font":"Liberation Serif","fontWeight":"bold","fontSize":18,"color":"#2b7bc0","text":"Rutile phase"},
 "encoding":{"x":{"datum":63.02,"type":"quantitative"},"y":{"datum":617,"type":"quantitative"}}},
{"mark":{"type":"text","align":"left","baseline":"middle","font":"Liberation Serif","fontWeight":"bold","fontSize":15,"color":"#111111","text":"—C"},
 "encoding":{"x":{"datum":76.0,"type":"quantitative"},"y":{"datum":293,"type":"quantitative"}}},
{"mark":{"type":"text","align":"left","baseline":"middle","font":"Liberation Serif","fontWeight":"bold","fontSize":15,"color":"#111111","text":"—B"},
 "encoding":{"x":{"datum":76.0,"type":"quantitative"},"y":{"datum":174,"type":"quantitative"}}},
{"mark":{"type":"text","align":"left","baseline":"middle","font":"Liberation Serif","fontWeight":"bold","fontSize":15,"color":"#111111","text":"—A"},
 "encoding":{"x":{"datum":76.0,"type":"quantitative"},"y":{"datum":55,"type":"quantitative"}}}
]
}
